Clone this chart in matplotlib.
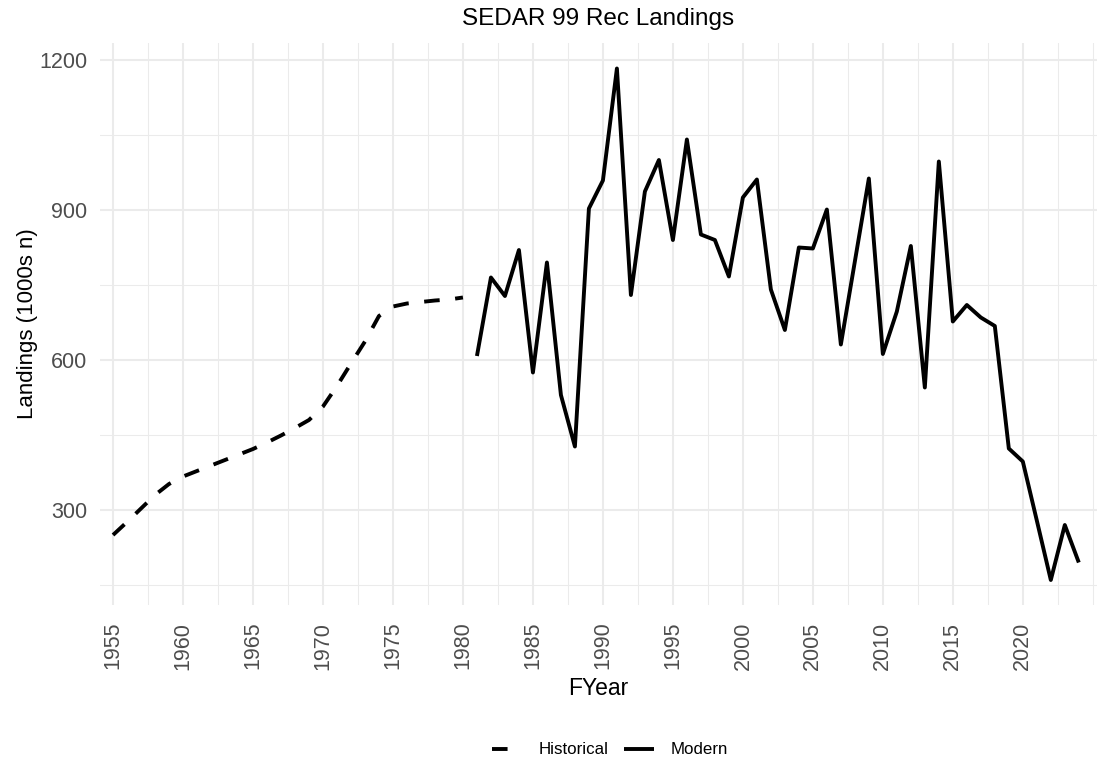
import matplotlib
matplotlib.use("Agg")
import matplotlib.pyplot as plt
import numpy as np

plt.rcParams['font.family'] = ['Liberation Sans', 'DejaVu Sans']

# historical (dashed) series
hist_years = list(range(1955, 1981))
hist_vals = [250, 276, 303, 330, 352, 367, 378, 389, 400, 411,
             422, 435, 449, 464, 480, 507, 548, 593, 637, 688,
             707, 713, 716, 719, 721, 725]

# modern (solid) series
mod_years = list(range(1981, 2025))
mod_vals = [608, 765, 728, 820, 575, 795, 530, 427, 903, 959,
            1183, 730, 937, 1000, 840, 1041, 851, 840, 767, 925,
            961, 741, 660, 825, 823, 901, 631, 797, 963, 612,
            697, 828, 545, 997, 677, 710, 685, 668, 423, 397,
            279, 160, 270, 195]

x_major = list(range(1955, 2021, 5))
x_minor = list(np.arange(1957.5, 2026, 5)) + [2025]
y_major = [300, 600, 900, 1200]
y_minor = [150, 450, 750, 1050]

W, H = 1097, 765
fig = plt.figure(figsize=(W / 100, H / 100), dpi=100)
ax = fig.add_axes([100 / W, 160 / H, 997 / W, 562 / H])

lw = 2.8
ax.plot(hist_years, hist_vals, color='black', lw=lw, dashes=(4, 4),
        dash_capstyle='butt', label='Historical')
ax.plot(mod_years, mod_vals, color='black', lw=lw,
        solid_capstyle='butt', label='Modern')

ax.set_xlim(1954.07, 2025.3)
ax.set_ylim(110, 1234)
ax.set_xticks(x_major)
ax.set_xticks(x_minor, minor=True)
ax.set_yticks(y_major)
ax.set_yticks(y_minor, minor=True)
ax.set_xticklabels([str(y) for y in x_major], rotation=90, va='top')

ax.grid(True, which='major', color='#EBEBEB', lw=1.5)
ax.grid(True, which='minor', color='#EBEBEB', lw=0.75)
ax.set_axisbelow(True)
for s in ax.spines.values():
    s.set_visible(False)
ax.tick_params(which='both', length=0, labelsize=15.5, labelcolor='#4D4D4D')
ax.tick_params(axis='y', pad=9)
ax.tick_params(axis='x', pad=12)

ax.set_xlabel('FYear', fontsize=16.5, color='black', labelpad=5)
ax.set_ylabel('Landings (1000s n)', fontsize=16, color='black', labelpad=1)
ax.set_title('SEDAR 99 Rec Landings', fontsize=17.5, color='black', pad=13)

fig.legend(loc='center', bbox_to_anchor=(610 / W, 15 / H), ncol=2,
           frameon=False, fontsize=12.2, handlelength=1.75,
           handletextpad=1.0, columnspacing=0.9)

fig.savefig('out.png', dpi=100)
